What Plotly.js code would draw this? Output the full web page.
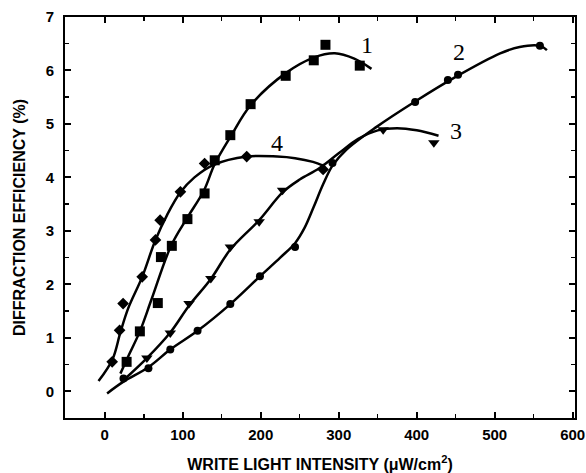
<!DOCTYPE html>
<html>
<head>
<meta charset="utf-8">
<script src="https://cdn.plot.ly/plotly-3.0.1.min.js"></script>
<style>html,body{margin:0;padding:0;background:#fff;}#chart{width:586px;height:473px;}</style>
</head>
<body>
<div id="chart"></div>
<script>
// Measured points (markers)
const s1X = [28, 45, 68, 72, 86, 106, 128, 141, 161, 187, 232, 268, 283, 327];
const s1Y = [0.55, 1.12, 1.65, 2.51, 2.72, 3.22, 3.70, 4.32, 4.79, 5.37, 5.90, 6.19, 6.48, 6.09];
const s2X = [24, 56, 84, 119, 161, 199, 244, 292, 398, 440, 453, 558];
const s2Y = [0.24, 0.43, 0.78, 1.13, 1.63, 2.15, 2.70, 4.27, 5.41, 5.82, 5.92, 6.46];
const s3X = [54, 84, 108, 136, 161, 198, 228, 357, 422];
const s3Y = [0.62, 1.09, 1.64, 2.11, 2.70, 3.17, 3.76, 4.89, 4.65];
const s4X = [9.5, 19, 23.5, 48, 65, 71, 97, 128, 182, 280];
const s4Y = [0.55, 1.14, 1.64, 2.14, 2.83, 3.2, 3.73, 4.26, 4.39, 4.15];

// Fitted curves
const c1X = [20, 30, 45, 60, 85, 106, 127, 141, 162, 187, 232, 268, 295, 320, 342];
const c1Y = [0.33, 0.65, 1.12, 1.72, 2.72, 3.25, 3.75, 4.25, 4.78, 5.35, 5.95, 6.24, 6.32, 6.22, 6.03];
const c2X = [3, 24, 56, 84, 119, 161, 199, 225, 244, 256, 268, 280, 292, 310, 349, 398, 450, 507, 532, 558, 567];
const c2Y = [-0.04, 0.18, 0.45, 0.78, 1.13, 1.63, 2.15, 2.5, 2.77, 3.05, 3.45, 3.87, 4.22, 4.52, 4.95, 5.42, 5.88, 6.32, 6.44, 6.46, 6.38];
const c3X = [25, 54, 84, 108, 136, 161, 198, 228, 250, 275, 300, 325, 350, 375, 400, 428];
const c3Y = [0.22, 0.62, 1.1, 1.6, 2.1, 2.65, 3.2, 3.72, 3.96, 4.17, 4.45, 4.72, 4.88, 4.92, 4.88, 4.78];
const c4X = [-8, 10, 20, 30, 48, 65, 80, 97, 115, 139, 182, 221, 244, 267, 280];
const c4Y = [0.19, 0.6, 1.1, 1.55, 2.14, 2.83, 3.3, 3.72, 4.0, 4.23, 4.39, 4.39, 4.36, 4.29, 4.22];

// Curve labels
const labelText = ["1", "2", "3", "4"];
const labelX = [336, 454, 451, 221];
const labelY = [6.48, 6.35, 4.86, 4.64];

const black = "#000";
function curve(x, y) {
  return {x: x, y: y, mode: "lines", type: "scatter", hoverinfo: "skip",
    line: {color: black, width: 2.5, shape: "spline", smoothing: 1}, showlegend: false};
}
function pts(x, y, sym, size) {
  return {x: x, y: y, mode: "markers", type: "scatter",
    marker: {color: black, symbol: sym, size: size}, showlegend: false};
}
const data = [
  curve(c1X, c1Y), curve(c2X, c2Y), curve(c3X, c3Y), curve(c4X, c4Y),
  pts(s1X, s1Y, "square", 10), pts(s2X, s2Y, "circle", 8),
  pts(s3X, s3Y, "triangle-down", 10), pts(s4X, s4Y, "diamond", 9)
];

const annotations = labelText.map((t, i) => ({
  x: labelX[i], y: labelY[i], text: t, showarrow: false,
  font: {family: "Liberation Serif, Times New Roman, serif", size: 24, color: black}
}));

const axisCommon = {
  showline: true, linecolor: black, linewidth: 2, mirror: "ticks",
  ticks: "inside", ticklen: 6, tickwidth: 2, tickcolor: black,
  showgrid: false, zeroline: false,
  tickfont: {family: "Liberation Sans, Arial, sans-serif", size: 15, color: black, weight: "bold"}
};

const layout = {
  width: 586, height: 473,
  margin: {l: 65, r: 11, t: 17, b: 55},
  paper_bgcolor: "#fff", plot_bgcolor: "#fff",
  xaxis: Object.assign({}, axisCommon, {
    range: [-51, 603], dtick: 100, tick0: 0,
    minor: {ticks: "inside", ticklen: 4, tickwidth: 1.5, tickcolor: black, dtick: 50, showgrid: false},
    ticklabelstandoff: 2,
    title: {text: "WRITE LIGHT INTENSITY (\u03bcW/cm<sup>2</sup>)", standoff: 17,
      font: {family: "Liberation Sans, Arial, sans-serif", size: 16, color: black, weight: "bold"}}
  }),
  yaxis: Object.assign({}, axisCommon, {
    range: [-0.5, 7], dtick: 1, tick0: 0,
    minor: {ticks: "inside", ticklen: 4, tickwidth: 1.5, tickcolor: black, dtick: 0.5, showgrid: false},
    ticklabelstandoff: 6,
    title: {text: "DIFFRACTION EFFICIENCY (%)", standoff: 16,
      font: {family: "Liberation Sans, Arial, sans-serif", size: 16, color: black, weight: "bold"}}
  }),
  annotations: annotations
};

Plotly.newPlot("chart", data, layout, {displayModeBar: false, staticPlot: true});
</script>
</body>
</html>
